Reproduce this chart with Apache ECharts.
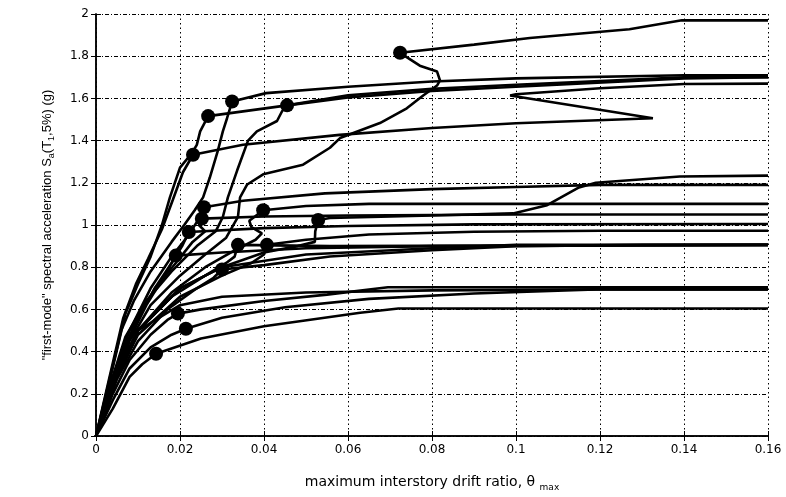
<!DOCTYPE html>
<html>
<head>
<meta charset="utf-8">
<script src="https://cdn.jsdelivr.net/npm/echarts@6/dist/echarts.min.js"></script>
<style>
  html, body { margin: 0; padding: 0; background: #fff; }
  #chart { width: 786px; height: 497px; }
</style>
</head>
<body>
<div id="chart"></div>
<script>
// IDA curves: maximum interstory drift ratio (x) vs first-mode Sa (y)
const xTicks = [0, 0.02, 0.04, 0.06, 0.08, 0.1, 0.12, 0.14, 0.16];
const yTicks = [0, 0.2, 0.4, 0.6, 0.8, 1, 1.2, 1.4, 1.6, 1.8, 2];

const curveA = [[0,0],[0.004,0.24],[0.008,0.45],[0.013,0.62],[0.02,0.76],[0.026,0.86],[0.031,0.94],[0.0338,1.038],[0.0343,1.131],[0.036,1.192],[0.0398,1.24],[0.0493,1.286],[0.0557,1.366],[0.0581,1.412],[0.0676,1.483],[0.074,1.553],[0.0779,1.614],[0.0812,1.661],[0.0819,1.685],[0.0812,1.727],[0.0771,1.755],[0.0724,1.816],[0.09,1.855],[0.1033,1.886],[0.127,1.928],[0.1395,1.97],[0.16,1.97]];
const curveB = [[0,0],[0.003,0.25],[0.006,0.5],[0.009,0.64],[0.013,0.78],[0.018,0.92],[0.021,1.0],[0.0235,1.07],[0.0255,1.131],[0.0271,1.225],[0.029,1.351],[0.0302,1.444],[0.0312,1.506],[0.0324,1.585],[0.0405,1.625],[0.06,1.655],[0.08,1.68],[0.1,1.695],[0.14,1.71],[0.16,1.71]];
const curveC = [[0,0],[0.003,0.26],[0.0065,0.56],[0.0095,0.72],[0.0124,0.84],[0.0157,0.98],[0.0183,1.12],[0.0207,1.25],[0.0231,1.333],[0.035,1.38],[0.058,1.427],[0.08,1.46],[0.1,1.482],[0.1326,1.506],[0.0986,1.614],[0.1,1.62],[0.12,1.648],[0.14,1.668],[0.16,1.67]];
const curveD = [[0,0],[0.003,0.24],[0.007,0.58],[0.01,0.72],[0.013,0.85],[0.0157,1.0],[0.0176,1.131],[0.02,1.272],[0.0228,1.34],[0.024,1.38],[0.0248,1.444],[0.0267,1.516],[0.0455,1.567],[0.06,1.605],[0.08,1.635],[0.1,1.655],[0.14,1.695],[0.16,1.7]];
const curveE = [[0,0],[0.0035,0.25],[0.007,0.47],[0.012,0.64],[0.018,0.78],[0.024,0.9],[0.0285,0.97],[0.0302,1.038],[0.0314,1.131],[0.0336,1.258],[0.0362,1.4],[0.0383,1.444],[0.0431,1.493],[0.0443,1.539],[0.0455,1.567],[0.06,1.615],[0.08,1.645],[0.1,1.665],[0.14,1.7],[0.16,1.7]];
const curveF = [[0,0],[0.004,0.28],[0.008,0.5],[0.013,0.7],[0.018,0.85],[0.022,0.95],[0.0245,1.03],[0.0257,1.084],[0.035,1.115],[0.0545,1.15],[0.08,1.17],[0.1,1.18],[0.12,1.19],[0.16,1.19]];
const curveG = [[0,0],[0.004,0.26],[0.009,0.52],[0.014,0.7],[0.019,0.82],[0.023,0.92],[0.026,0.97],[0.0245,1.0],[0.0252,1.03],[0.04,1.04],[0.06,1.045],[0.1,1.05],[0.16,1.05]];
const curveH = [[0,0],[0.004,0.27],[0.009,0.52],[0.014,0.7],[0.018,0.82],[0.0205,0.9],[0.0221,0.967],[0.04,0.985],[0.06,0.995],[0.09,1.003],[0.16,1.005]];
const curveI = [[0,0],[0.004,0.26],[0.008,0.46],[0.012,0.62],[0.016,0.75],[0.019,0.855],[0.03,0.87],[0.05,0.89],[0.08,0.9],[0.16,0.906]];
const curveJ = [[0,0],[0.005,0.3],[0.01,0.5],[0.018,0.68],[0.026,0.8],[0.033,0.88],[0.038,0.93],[0.0395,0.96],[0.037,0.99],[0.0365,1.02],[0.0398,1.07],[0.05,1.09],[0.065,1.1],[0.16,1.1]];
const curveK = [[0,0],[0.005,0.3],[0.01,0.5],[0.02,0.7],[0.03,0.8],[0.04,0.87],[0.048,0.9],[0.0521,0.92],[0.0522,0.97],[0.0529,1.024],[0.0557,1.033],[0.08,1.045],[0.0993,1.055],[0.1074,1.094],[0.115,1.178],[0.119,1.2],[0.139,1.23],[0.16,1.234]];
const curveL = [[0,0],[0.005,0.3],[0.01,0.5],[0.018,0.66],[0.026,0.76],[0.031,0.82],[0.033,0.85],[0.0338,0.906],[0.0557,0.9],[0.16,0.906]];
const curveM = [[0,0],[0.005,0.28],[0.01,0.48],[0.02,0.66],[0.03,0.76],[0.037,0.82],[0.04,0.86],[0.0407,0.906],[0.05,0.93],[0.065,0.955],[0.09,0.968],[0.12,0.973],[0.16,0.973]];
const curveN = [[0,0],[0.005,0.27],[0.01,0.45],[0.017,0.6],[0.024,0.7],[0.028,0.75],[0.03,0.789],[0.04,0.81],[0.0557,0.851],[0.08,0.88],[0.1,0.9],[0.13,0.906],[0.16,0.906]];
const curveO = [[0,0],[0.004,0.2],[0.008,0.36],[0.013,0.48],[0.017,0.55],[0.0195,0.58],[0.025,0.6],[0.04,0.64],[0.055,0.67],[0.0695,0.705],[0.16,0.705]];
const curveP = [[0,0],[0.004,0.17],[0.008,0.32],[0.013,0.42],[0.018,0.48],[0.0214,0.508],[0.03,0.56],[0.045,0.61],[0.065,0.65],[0.09,0.675],[0.119,0.695],[0.16,0.695]];
const curveQ = [[0,0],[0.004,0.13],[0.008,0.28],[0.011,0.34],[0.0143,0.39],[0.025,0.462],[0.04,0.52],[0.0629,0.584],[0.072,0.604],[0.16,0.604]];
const curveR = [[0,0],[0.005,0.3],[0.01,0.5],[0.02,0.62],[0.03,0.66],[0.05,0.68],[0.08,0.69],[0.12,0.695],[0.16,0.695]];
const curveS = [[0,0],[0.005,0.3],[0.01,0.5],[0.02,0.7],[0.03,0.8],[0.05,0.86],[0.08,0.89],[0.1,0.906],[0.16,0.906]];

// capacity points marked on each curve
const capacityPoints = [[0.0724,1.816],[0.0324,1.585],[0.0455,1.567],[0.0267,1.516],[0.0231,1.333],[0.0257,1.084],[0.0252,1.03],[0.0221,0.967],[0.019,0.855],[0.0398,1.07],[0.0529,1.024],[0.0338,0.906],[0.0407,0.906],[0.03,0.789],[0.0195,0.58],[0.0214,0.508],[0.0143,0.39]];

const curves = [curveA, curveB, curveC, curveD, curveE, curveF, curveG, curveH, curveI, curveJ, curveK, curveL, curveM, curveN, curveO, curveP, curveQ, curveR, curveS];

const FONT = 'Liberation Sans, Arial, Helvetica, sans-serif';
const WIDE = 'DejaVu Sans, Liberation Sans, sans-serif';
const fmt = v => String(+(+v).toFixed(2));

const series = curves.map(c => ({
  type: 'line', data: c, showSymbol: false, silent: true, animation: false,
  lineStyle: { color: '#000', width: 2.6 }, z: 3
}));
series.push({
  type: 'scatter', data: capacityPoints, symbol: 'circle', symbolSize: 14,
  itemStyle: { color: '#000', opacity: 1 }, animation: false, z: 4
});

const axisCommon = {
  axisLine: { show: true, lineStyle: { color: '#000', width: 1.5 } },
  axisTick: { show: true, inside: true, length: 5, lineStyle: { color: '#000', width: 1 } }
};

const chart = echarts.init(document.getElementById('chart'), null, { renderer: 'canvas' });
chart.setOption({
  backgroundColor: '#fff',
  grid: { left: 96, right: 18, top: 14, bottom: 55, containLabel: false },
  xAxis: [{
    type: 'value', min: xTicks[0], max: xTicks[xTicks.length - 1], interval: 0.02,
    position: 'bottom', ...axisCommon,
    axisLabel: { color: '#000', fontFamily: WIDE, fontSize: 12, margin: 8, formatter: fmt },
    splitLine: { show: true, lineStyle: { color: '#000', width: 1, type: [1.5, 3] } },
    name: 'maximum interstory drift ratio, θ {sub|max}',
    nameLocation: 'middle', nameGap: 36,
    nameTextStyle: { color: '#000', fontFamily: WIDE, fontSize: 14,
      rich: { sub: { fontFamily: WIDE, fontSize: 9, color: '#000', padding: [11, 0, 0, 0] } } }
  }, {
    type: 'value', min: xTicks[0], max: xTicks[xTicks.length - 1], interval: 0.02,
    position: 'top', ...axisCommon, axisLabel: { show: false }, splitLine: { show: false }
  }],
  yAxis: [{
    type: 'value', min: yTicks[0], max: yTicks[yTicks.length - 1], interval: 0.2,
    position: 'left', ...axisCommon,
    axisLabel: { color: '#000', fontFamily: WIDE, fontSize: 12, margin: 7, formatter: fmt },
    splitLine: { show: true, lineStyle: { color: '#000', width: 1, type: [4, 2, 1, 2] } },
    name: '"first-mode" spectral acceleration S{sub|a}(T{sub|1},5%) (g)',
    nameLocation: 'middle', nameGap: 40, nameRotate: 90,
    nameTextStyle: { color: '#000', fontFamily: FONT, fontSize: 13,
      rich: { sub: { fontFamily: FONT, fontSize: 9, color: '#000', padding: [9, 0, 0, 0] } } }
  }, {
    type: 'value', min: yTicks[0], max: yTicks[yTicks.length - 1], interval: 0.2,
    position: 'right', ...axisCommon, axisLabel: { show: false }, splitLine: { show: false }
  }],
  series: series
});
</script>
</body>
</html>
